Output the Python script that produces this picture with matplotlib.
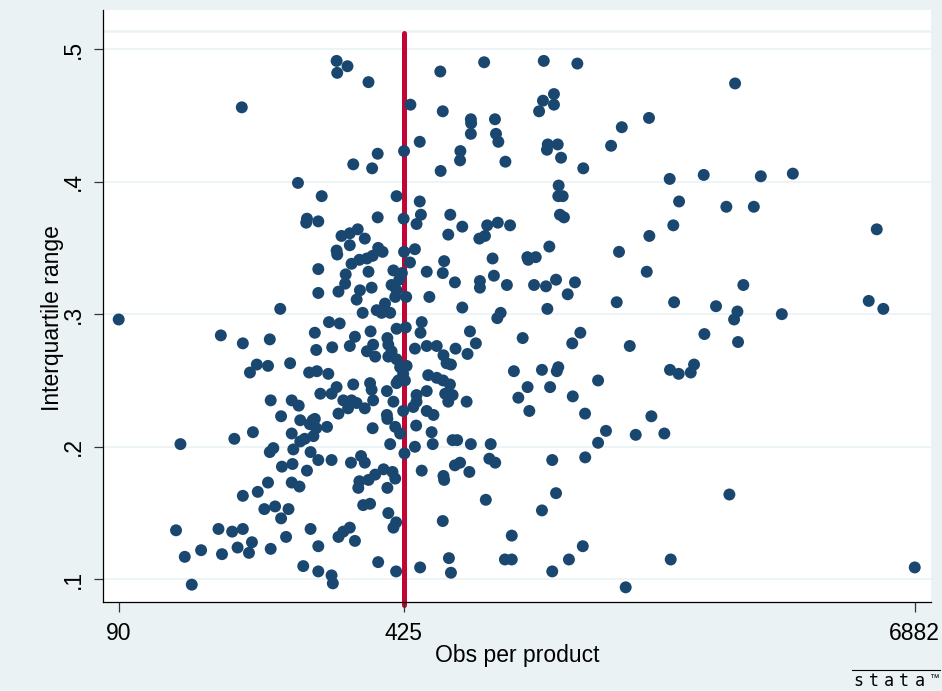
import matplotlib
matplotlib.use("Agg")
import matplotlib.pyplot as plt
from matplotlib.ticker import NullLocator, FixedLocator

plt.rcParams['font.family'] = ['Liberation Sans', 'DejaVu Sans']

obs = [
    295, 313, 296, 351, 176, 369, 323, 358, 239, 272, 369, 251, 250, 267, 331,
    519, 659, 441, 526, 613, 614, 613, 699, 703, 712, 464, 426, 579, 578, 740, 520, 409, 464,
    467, 548, 425, 456, 585, 670, 710, 759,
    912, 1095, 2586, 964, 908, 964, 889, 1618, 1395, 1316, 932, 984, 928, 1002, 1131, 1811,
    2180, 2975, 3542, 989, 987, 1011, 996, 1018, 1906, 2466, 2864, 1847, 5595,
    267, 267, 217, 90, 157, 177, 205, 262, 264, 191, 184, 203, 229, 254, 265, 270, 206, 231,
    240, 218, 242, 259,
    303, 317, 344, 317, 295, 296, 370, 379, 359, 348, 334, 320, 426, 452, 440, 542, 351, 402,
    421, 482, 530, 526, 310, 309, 415, 398, 409, 298, 335, 329, 357, 406, 431, 489, 384, 367,
    377, 395, 340, 283, 300, 409, 430, 469, 466, 355, 326, 317, 389, 391, 398, 391, 360, 348,
    364, 288, 452, 482, 509, 528, 409, 417, 432, 424, 413, 282, 486, 509, 537, 354, 357, 360,
    323, 295, 287, 428, 409, 388, 402, 456, 456, 482, 306, 320, 329, 314, 344, 298, 424, 482,
    500, 448, 388,
    642, 662, 940, 834, 838, 873, 690, 1374, 562, 644, 644, 695, 746, 865, 923, 975, 1081,
    1039, 1357, 585, 930, 721, 708, 610, 630, 813, 1113, 1065, 1457, 564, 602, 550, 775, 903,
    987, 979, 1226, 527, 547, 533, 555, 542, 599, 835, 794, 944, 1068, 843, 1142,
    1621, 1598, 2705, 1855, 2331, 2619, 2572, 3336, 5356, 5799, 2188, 2628, 1814, 1902, 2068,
    2031, 1639,
    255, 262, 264, 260, 280, 248, 187, 169, 126, 231, 242, 209, 205, 233, 256, 267, 232, 219,
    251, 203, 192, 177, 231, 241, 211, 199, 227, 218, 123, 155, 167, 177, 224, 256, 186, 183,
    172, 158, 141, 129, 206, 267, 246, 267, 134,
    389, 359, 406, 417, 455, 495, 395, 427, 452, 498, 287, 319, 337, 344, 381, 400, 406, 364,
    351, 334, 332, 389, 469, 341, 354, 391, 408, 402, 298, 306, 317, 326, 287, 289, 370, 408,
    465,
    1280, 1505, 1759, 555, 569, 613, 683, 1226, 678, 700, 562, 578, 955, 1143, 608, 528, 530,
    975, 2507, 665, 903, 526, 766, 1128, 1046, 544, 550, 738, 766, 1821, 955, 1425, 6882,
]

iqr = [
    .491, .487, .482, .475, .456, .421, .413, .410, .399, .389, .373, .372, .369, .370, .364,
    .483, .490, .458, .453, .447, .444, .436, .447, .436, .430, .430, .423, .423, .416, .415, .408, .389, .385,
    .375, .375, .372, .368, .366, .367, .369, .367,
    .491, .489, .474, .466, .461, .458, .453, .448, .441, .427, .428, .428, .424, .418, .410, .402,
    .405, .404, .406, .397, .389, .389, .375, .373, .385, .381, .381, .367, .364,
    .334, .316, .304, .296, .284, .278, .281, .286, .273, .262, .256, .261, .263, .256, .257, .240, .235, .235,
    .231, .223, .220, .220,
    .359, .361, .357, .352, .348, .345, .350, .347, .344, .342, .341, .338, .347, .349, .339, .360, .332, .333,
    .331, .332, .340, .331, .330, .323, .326, .322, .318, .317, .318, .311, .320, .313, .313, .313, .308, .303,
    .301, .301, .301, .294, .293, .289, .290, .294, .286, .287, .283, .276, .282, .277, .272, .268, .277, .272,
    .268, .275, .274, .276, .276, .269, .266, .260, .261, .255, .250, .255, .254, .252, .263, .248, .243, .235,
    .247, .245, .240, .250, .248, .242, .234, .239, .234, .242, .235, .235, .233, .229, .229, .225, .227, .227,
    .224, .230, .224,
    .357, .359, .351, .343, .341, .343, .342, .347, .324, .325, .320, .329, .322, .322, .321, .326, .324,
    .315, .309, .305, .304, .301, .297, .287, .278, .282, .286, .278, .276, .274, .270, .262, .257, .258,
    .260, .257, .250, .250, .247, .240, .239, .234, .234, .245, .237, .245, .238, .227, .225,
    .359, .332, .322, .309, .306, .302, .296, .300, .310, .304, .285, .279, .258, .255, .262,
    .256, .223,
    .217, .221, .214, .208, .215, .206, .211, .206, .202, .210, .204, .199, .196, .198, .196, .190, .187, .185,
    .182, .173, .166, .163, .173, .170, .155, .153, .153, .146, .137, .138, .136, .138, .132, .138, .128, .120,
    .124, .119, .122, .117, .123, .125, .110, .106, .096,
    .221, .214, .215, .210, .216, .211, .202, .195, .200, .202, .190, .188, .193, .188, .183, .181, .176, .179,
    .175, .174, .169, .169, .182, .156, .157, .150, .143, .139, .132, .136, .139, .129, .103, .097, .113, .106,
    .109,
    .212, .209, .210, .205, .205, .202, .202, .203, .191, .188, .186, .188, .190, .192, .181, .178, .175,
    .165, .164, .160, .152, .144, .133, .125, .115, .116, .105, .115, .115, .115, .106, .094, .109,
]

x_ticks = [90, 425, 6882]
y_ticks = [.1, .2, .3, .4, .5]
y_labels = ['.1', '.2', '.3', '.4', '.5']
cutoff = 425

bg = '#EAF2F3'
navy = '#1A476F'

fig = plt.figure(figsize=(9.42, 6.91), dpi=100, facecolor=bg)
# white plot region runs from the top margin down to the x axis
ax = fig.add_axes([103.3 / 942, 1 - 602.3 / 691, 827.4 / 942, 592.3 / 691])
ax.set_facecolor('white')

ax.set_xscale('log')
ax.set_xlim(82.76, 7507)
ax.set_ylim(0.0827, 0.5294)

for v in y_ticks:
    ax.axhline(v, color=bg, lw=1.2, zorder=0)
# light border line at the top of the data area
ax.axhline(0.5132, color=bg, lw=1.8, zorder=0)

ax.axvline(cutoff, ymin=-0.004, ymax=0.961, color='#C10534', lw=3.6, zorder=1,
           solid_capstyle='round', clip_on=False)
ax.scatter(obs, iqr, s=74, color=navy, edgecolors='none', zorder=2)

ax.xaxis.set_major_locator(FixedLocator(x_ticks))
ax.xaxis.set_minor_locator(NullLocator())
ax.set_xticklabels([str(v) for v in x_ticks])
ax.set_yticks(y_ticks)
ax.set_yticklabels(y_labels, rotation=90, va='center')

for s in ['top', 'right']:
    ax.spines[s].set_visible(False)
for s in ['left', 'bottom']:
    ax.spines[s].set_color('black')
    ax.spines[s].set_linewidth(0.9)

ax.tick_params(axis='x', length=7, width=0.9, color='#333333', pad=7, labelsize=16.5)
ax.tick_params(axis='y', length=6.5, width=0.9, color='#333333', pad=6.5, labelsize=16.5)

ax.set_xlabel('Obs per product', fontsize=16.5, va='center')
ax.xaxis.set_label_coords(0.5, -0.089)
ax.set_ylabel('Interquartile range', fontsize=16.5, va='center')
ax.yaxis.set_label_coords(-0.062, 0.48)

# stata logo, bottom right
fig.add_artist(plt.Line2D([852 / 942, 940 / 942], [1 - 670 / 691, 1 - 670 / 691],
                          color='black', lw=0.8))
for i, ch in enumerate('stata'):
    fig.text((858 + i * 15.5) / 942, 1 - 681 / 691, ch, family='DejaVu Sans Mono',
             fontsize=12, ha='center', va='center')
fig.text(934 / 942, 1 - 678 / 691, '™', fontsize=7, ha='center', va='center')

fig.savefig('out.png', dpi=100, facecolor=bg)
